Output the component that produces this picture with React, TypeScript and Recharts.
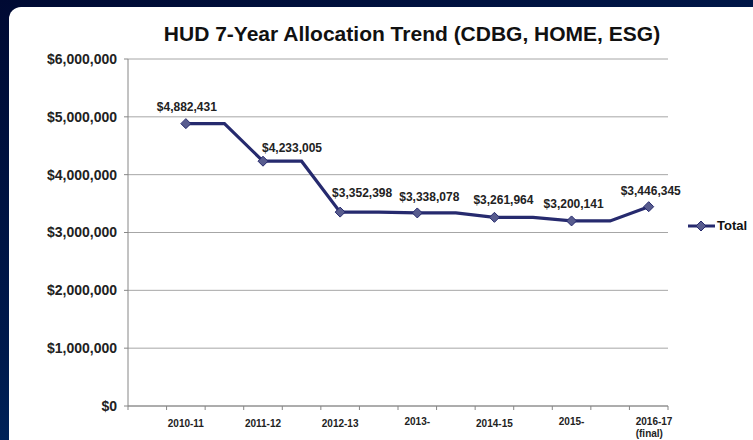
import { CartesianGrid, LabelList, Line, LineChart, XAxis, YAxis } from "recharts";

const categories = [
  "",
  "2010-11",
  "",
  "2011-12",
  "",
  "2012-13",
  "",
  "2013-",
  "",
  "2014-15",
  "",
  "2015-",
  "",
  "2016-17 (final)",
];

const totals = [
  null,
  4882431,
  4882431,
  4233005,
  4233005,
  3352398,
  3352398,
  3338078,
  3338078,
  3261964,
  3261964,
  3200141,
  3200141,
  3446345,
];

const yTicks = [0, 1000000, 2000000, 3000000, 4000000, 5000000, 6000000];

const data = categories.map((c, i) => ({ slot: i, name: c, Total: totals[i] }));

// hand-placed label offsets (dx, height above point), as in the original
const LABEL_DX: Record<number, number> = { 1: 1, 3: 29, 5: 22, 7: 12, 9: 9, 11: 2, 13: 2 };
const LABEL_UP: Record<number, number> = { 1: 13, 3: 9, 5: 15, 7: 12, 9: 13, 11: 13, 13: 12 };

const FONT = '"Liberation Sans", Arial, sans-serif';
const LINE = "#262a6e";
const PLOT_LEFT = 128;
const PLOT_WIDTH = 540;
const STEP = PLOT_WIDTH / categories.length;

function money(v: number) {
  return "$" + v.toLocaleString("en-US");
}

function Diamond({ cx, cy }: { cx: number; cy: number }) {
  const r = 5;
  return (
    <path
      d={`M${cx},${cy - r} L${cx + r},${cy} L${cx},${cy + r} L${cx - r},${cy} Z`}
      fill="#585c8e"
      stroke={LINE}
      strokeWidth={1}
    />
  );
}

function XTick(props: any) {
  const { x, y, index } = props;
  const label: string = categories[index] ?? "";
  const lines = label.includes(" ") ? label.split(" ") : [label];
  const left = x - STEP / 2;
  return (
    <g>
      <line x1={left} y1={y - 8} x2={left} y2={y - 4} stroke="#868686" />
      {index === categories.length - 1 && (
        <line x1={x + STEP / 2} y1={y - 8} x2={x + STEP / 2} y2={y - 4} stroke="#868686" />
      )}
      {lines.map((l, i) => (
        <text
          key={i}
          x={lines.length > 1 ? x - 13 : x}
          y={y + (lines.length > 1 || l.endsWith("-") ? 11 : 13) + i * 12}
          textAnchor={lines.length > 1 ? "start" : "middle"}
          fontFamily={FONT}
          fontWeight="bold"
          fontSize={10}
          fill="#222"
        >
          {l}
        </text>
      ))}
    </g>
  );
}

export default function App() {
  return (
    <div
      style={{
        position: "fixed",
        left: 0,
        top: 0,
        width: 753,
        height: 440,
        overflow: "hidden",
        background: "linear-gradient(160deg, #000a33 0%, #001a4d 50%, #003c7c 100%)",
      }}
    >
      <div
        style={{
          position: "absolute",
          left: 9,
          top: 7,
          width: 744,
          height: 433,
          background: "#fff",
          borderTopLeftRadius: 12,
        }}
      />
      <div
        style={{
          position: "absolute",
          left: 112,
          top: 22,
          width: 600,
          textAlign: "center",
          fontFamily: FONT,
          fontWeight: "bold",
          fontSize: 21,
          color: "#111",
          whiteSpace: "nowrap",
        }}
      >
        HUD 7-Year Allocation Trend (CDBG, HOME, ESG)
      </div>
      <div
        style={{
          position: "absolute",
          left: 687,
          top: 218,
          display: "flex",
          alignItems: "center",
          fontFamily: FONT,
        }}
      >
        <svg width={29} height={12}>
          <line x1={1} y1={6} x2={28} y2={6} stroke={LINE} strokeWidth={3} />
          <Diamond cx={14} cy={6} />
        </svg>
        <span style={{ fontWeight: "bold", fontSize: 13, color: "#111", marginLeft: 1 }}>Total</span>
      </div>
      <div style={{ position: "absolute", left: 0, top: 0 }}>
        <LineChart
          width={753}
          height={440}
          data={data}
          margin={{ top: 59, right: 753 - PLOT_LEFT - PLOT_WIDTH, bottom: 0, left: 0 }}
        >
          <CartesianGrid vertical={false} stroke="#a6a6a6" strokeWidth={1} />
          <XAxis
            dataKey="slot"
            height={34}
            stroke="#868686"
            tickLine={false}
            interval={0}
            padding={{ left: STEP / 2, right: STEP / 2 }}
            tick={<XTick />}
          />
          <YAxis
            width={PLOT_LEFT}
            domain={[0, 6000000]}
            ticks={yTicks}
            tickFormatter={money}
            stroke="#868686"
            tickSize={4}
            tickMargin={7}
            tick={{ fontFamily: FONT, fontWeight: "bold", fontSize: 14, fill: "#222" }}
          />
          <Line
            type="linear"
            dataKey="Total"
            stroke={LINE}
            strokeWidth={3.2}
            isAnimationActive={false}
            dot={(p: any) =>
              categories[p.index] && p.cy != null ? (
                <Diamond key={p.index} cx={p.cx} cy={p.cy} />
              ) : (
                <g key={p.index} />
              )
            }
            activeDot={false}
          >
            <LabelList
              dataKey="Total"
              content={(p: any) =>
                categories[p.index] && p.value != null ? (
                  <text
                    x={p.x + (LABEL_DX[p.index] ?? 0)}
                    y={p.y - (LABEL_UP[p.index] ?? 12)}
                    textAnchor="middle"
                    fontFamily={FONT}
                    fontWeight="bold"
                    fontSize={12}
                    fill="#222"
                  >
                    {money(p.value)}
                  </text>
                ) : null
              }
            />
          </Line>
        </LineChart>
      </div>
    </div>
  );
}
